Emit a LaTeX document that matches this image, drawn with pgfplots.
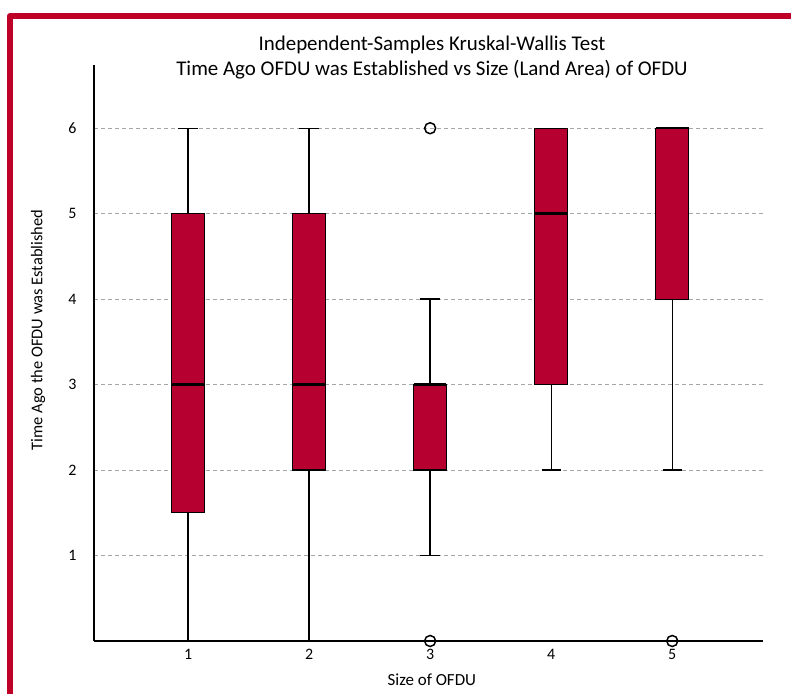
\documentclass[border=0pt]{standalone}
\usepackage{fontspec}
\setmainfont{Carlito}
\usepackage{pgfplots}
\pgfplotsset{compat=1.18}
\usepgfplotslibrary{statistics}
\definecolor{crim}{RGB}{182,0,48}
\definecolor{frame}{RGB}{190,0,40}
\begin{document}
\begin{tikzpicture}[x=1bp,y=1bp]
\path[use as bounding box] (0,0) rectangle (791,694);
\draw[line width=6bp, frame, line join=round] (10,-10) -- (10,678) -- (801,678);
\begin{axis}[
  at={(94bp,53bp)}, anchor=south west,
  width=669bp, height=576bp, scale only axis,
  xmin=0.223, xmax=5.75, ymin=0, ymax=6.74,
  axis x line*=bottom, axis y line*=left,
  axis line style={-, line width=1.3bp, black},
  xtick={1,2,3,4,5}, ytick={1,2,3,4,5,6},
  major tick length=0pt,
  ymajorgrids,
  major grid style={dash pattern=on 4bp off 3bp, gray!70, line width=0.8bp},
  tick label style={font=\fontsize{16}{18}\selectfont},
  /pgf/number format/assume math mode=true,
  yticklabel style={anchor=east, xshift=-14bp},
  xticklabel style={anchor=north, yshift=-5bp},
  xlabel={Size of OFDU},
  xlabel style={at={(axis description cs:0.505,-0.0677)}, anchor=center, font=\fontsize{17}{19}\selectfont},
  ylabel={Time Ago the OFDU was Established},
  ylabel style={at={(axis description cs:-0.0837,0.54)}, anchor=center, rotate=0, font=\fontsize{16.5}{19}\selectfont},
  clip=false,
  boxplot/draw direction=y,
  boxplot/box extend=0.27,
  boxplot/whisker extend=0.16,
  boxplot/every box/.style={draw=black, fill=crim, line width=1.2bp},
  boxplot/every median/.style={draw=black, line width=2.5bp},
  boxplot/every whisker/.style={draw=black, line width=1.3bp},
]
\addplot[black, boxplot prepared={draw position=1, lower whisker=0, lower quartile=1.5, median=3, upper quartile=5, upper whisker=6}] coordinates {};
\addplot[black, boxplot prepared={draw position=2, lower whisker=0, lower quartile=2, median=3, upper quartile=5, upper whisker=6}] coordinates {};
\addplot[black, mark=o, mark size=5.5bp, mark options={line width=1.5bp, fill=white}, boxplot prepared={draw position=3, lower whisker=1, lower quartile=2, median=3, upper quartile=3, upper whisker=4}] coordinates {(0,6) (0,0)};
\addplot[black, boxplot prepared={draw position=4, lower whisker=2, lower quartile=3, median=5, upper quartile=6, upper whisker=6}] coordinates {};
\addplot[black, mark=o, mark size=5.5bp, mark options={line width=1.5bp, fill=white}, boxplot prepared={draw position=5, lower whisker=2, lower quartile=4, median=6, upper quartile=6, upper whisker=6}] coordinates {(0,0)};
\end{axis}
\node[anchor=base, font=\fontsize{21}{24}\selectfont] at (432,643) {Independent-Samples Kruskal-Wallis Test};
\node[anchor=base, font=\fontsize{21}{24}\selectfont] at (432,618) {Time Ago OFDU was Established vs Size (Land Area) of OFDU};
\end{tikzpicture}
\end{document}
